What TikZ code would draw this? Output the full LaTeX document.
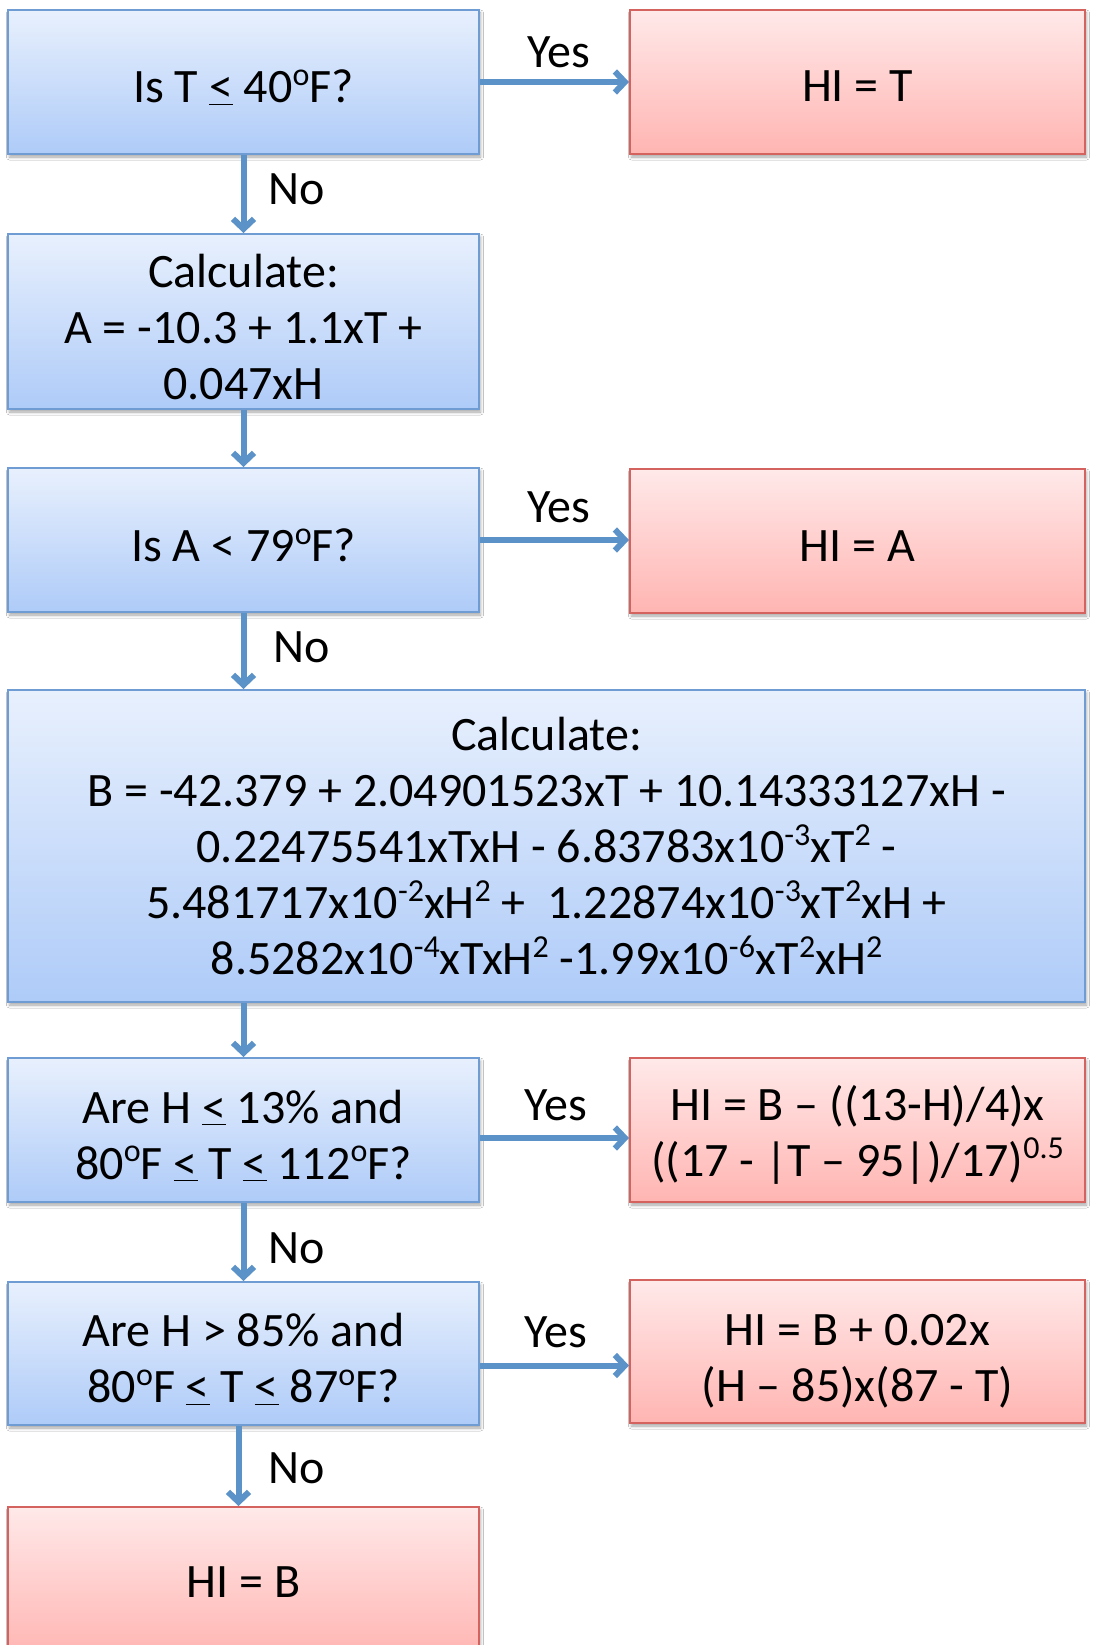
\documentclass[tikz,border=0pt]{standalone}
\usepackage{fontspec}
\setmainfont{Carlito}
\usetikzlibrary{arrows.meta,shadows.blur}
\definecolor{bluetop}{HTML}{E8F0FD}
\definecolor{bluebot}{HTML}{AECBF8}
\definecolor{blueline}{HTML}{6F9DD3}
\definecolor{redtop}{HTML}{FFE9E9}
\definecolor{redbot}{HTML}{FFB5B2}
\definecolor{redline}{HTML}{D4625F}
\definecolor{arrowcol}{HTML}{5B93C9}
\newcommand{\hsup}[1]{\raisebox{0.36em}{\fontsize{32}{32}\selectfont #1}}
\newcommand{\tstr}{\rule{0pt}{44pt}}
\begin{document}
\begin{tikzpicture}[x=1pt,y=-1pt,
  box/.style={rectangle, line width=2pt, align=center, inner sep=0pt,
    font=\fontsize{48}{56}\selectfont,
    blur shadow={shadow xshift=1.5pt, shadow yshift=-3pt, shadow blur radius=3pt, shadow opacity=35}},
  bluebox/.style={box, draw=blueline, top color=bluetop, bottom color=bluebot},
  redbox/.style={box, draw=redline, top color=redtop, bottom color=redbot},
  leftbox/.style={minimum width=471pt},
  rightbox/.style={minimum width=455pt},
  flow/.style={draw=arrowcol, line width=6pt, -{Straight Barb[length=10pt,width=21pt]}},
  lbl/.style={font=\fontsize{48}{56}\selectfont, inner sep=0pt}
]
\fill[white] (0,0) rectangle (1094,1645);
\useasboundingbox (0,0) rectangle (1094,1645);

\node[bluebox, leftbox, minimum height=144pt] (q1) at (243.5,82) {\tstr Is T \underline{<} 40\hsup{o}F?};
\node[redbox, rightbox, minimum height=144pt] (r1) at (857.5,82) {\rule{0pt}{40pt}HI = T};
\node[bluebox, leftbox, minimum height=175pt] (c1) at (243.5,321.5) {\tstr Calculate:\\A = -10.3 + 1.1xT +\\0.047xH};
\node[bluebox, leftbox, minimum height=144pt] (q2) at (243.5,540) {\tstr Is A < 79\hsup{o}F?};
\node[redbox, rightbox, minimum height=144pt] (r2) at (857.5,541) {\rule{0pt}{40pt}HI = A};
\node[bluebox, minimum width=1077pt, minimum height=312pt] (c2) at (546.5,846) {Calculate:\\
B = -42.379 + 2.04901523xT + 10.14333127xH -\\
0.22475541xTxH - 6.83783x10\hsup{-3}xT\hsup{2} -\\
5.481717x10\hsup{-2}xH\hsup{2} +~~1.22874x10\hsup{-3}xT\hsup{2}xH +\\
8.5282x10\hsup{-4}xTxH\hsup{2} -1.99x10\hsup{-6}xT\hsup{2}xH\hsup{2}};
\node[bluebox, leftbox, minimum height=144pt] (q3) at (243.5,1130) {\tstr Are H \underline{<} 13\% and\\80\hsup{o}F \underline{<} T \underline{<} 112\hsup{o}F?};
\node[redbox, rightbox, minimum height=144pt] (r3) at (857.5,1130) {\tstr HI = B – ((13-H)/4)x\\((17 - |T – 95|)/17)\hsup{0.5}};
\node[bluebox, leftbox, minimum height=143pt] (q4) at (243.5,1353.5) {\tstr Are H > 85\% and\\80\hsup{o}F \underline{<} T \underline{<} 87\hsup{o}F?};
\node[redbox, rightbox, minimum height=143pt] (r4) at (857.5,1351.5) {\rule{0pt}{50pt}HI = B + 0.02x\\(H – 85)x(87 - T)};
\node[redbox, leftbox, minimum height=150pt] (r5) at (243.5,1582) {HI = B};

\draw[flow] (q1.east) -- (r1.west);
\draw[flow] (q1.south) -- (c1.north);
\draw[flow] (c1.south) -- (q2.north);
\draw[flow] (q2.east) -- (q2.east -| r2.west);
\draw[flow] (q2.south) -- (q2.south |- c2.north);
\draw[flow] (c2.south -| q3.north) -- (q3.north);
\draw[flow] ([yshift=-8pt]q3.east) -- ([yshift=-8pt]q3.east -| r3.west);
\draw[flow] (q3.south) -- (q4.north);
\draw[flow] ([yshift=-12pt]q4.east) -- ([yshift=-12pt]q4.east -| r4.west);
\draw[flow] ([xshift=-5pt]q4.south) -- ([xshift=-5pt]r5.north);

\node[lbl] (y1) at (559,52) {Yes};
\node[lbl] (n1) at (297,189) {No};
\node[lbl] (y2) at (559,507) {Yes};
\node[lbl] (n2) at (302,647) {No};
\node[lbl] (y3) at (556,1105) {Yes};
\node[lbl] (n3) at (297,1248) {No};
\node[lbl] (y4) at (556,1332) {Yes};
\node[lbl] (n4) at (297,1468) {No};
\end{tikzpicture}
\end{document}
